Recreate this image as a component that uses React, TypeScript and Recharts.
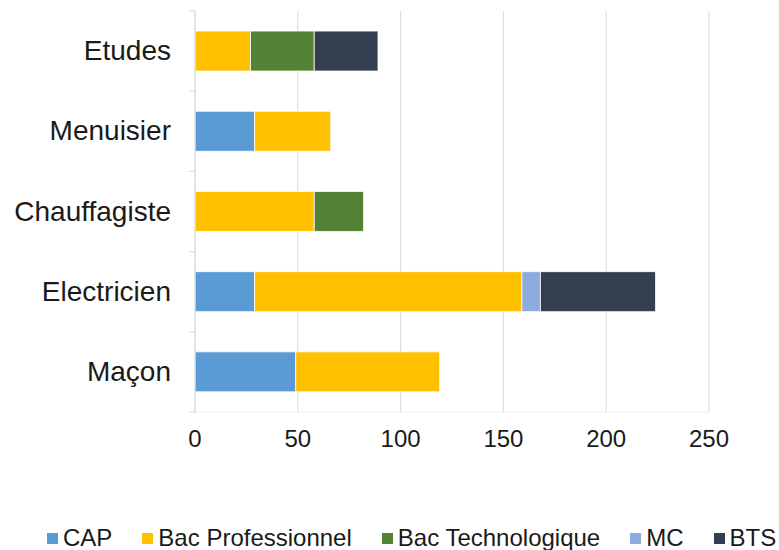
import React from 'react'
import {
  BarChart,
  Bar,
  XAxis,
  YAxis,
  CartesianGrid,
  Legend
} from 'recharts'

// categories, top to bottom
const categories = ['Etudes', 'Menuisier', 'Chauffagiste', 'Electricien', 'Maçon']

// series values (same order as categories)
const cap = [0, 29, 0, 29, 49]
const bacPro = [27, 37, 58, 130, 70]
const bacTech = [31, 0, 24, 0, 0]
const mc = [0, 0, 0, 9, 0]
const bts = [31, 0, 0, 56, 0]

const xTicks = [0, 50, 100, 150, 200, 250]

const series = [
  { key: 'cap', name: 'CAP', color: '#5b9bd5' },
  { key: 'bacPro', name: 'Bac Professionnel', color: '#ffc000' },
  { key: 'bacTech', name: 'Bac Technologique', color: '#548235' },
  { key: 'mc', name: 'MC', color: '#8faadc' },
  { key: 'bts', name: 'BTS', color: '#333f50' }
]

const data = categories.map((name, i) => ({
  name,
  cap: cap[i],
  bacPro: bacPro[i],
  bacTech: bacTech[i],
  mc: mc[i],
  bts: bts[i]
}))

const FONT = '"Liberation Sans", Arial, sans-serif'
const AXIS_GREY = '#d9d9d9'

// légende maison : carrés + texte, dans l'ordre des séries
const renderLegend = (props: any) => {
  const order = series.map(s => s.name)
  const items = [...(props.payload || [])].sort(
    (a: any, b: any) => order.indexOf(a.value) - order.indexOf(b.value)
  )
  return (
    <div style={{ display: 'flex', paddingLeft: 47, fontFamily: FONT, fontSize: 24, color: '#1a1a1a', whiteSpace: 'nowrap' }}>
      {items.map((p: any) => (
        <div key={p.value} style={{ display: 'flex', alignItems: 'center', marginRight: 30 }}>
          <span style={{ width: 11, height: 11, background: p.color, display: 'inline-block', marginRight: 5 }} />
          <span>{p.value}</span>
        </div>
      ))}
    </div>
  )
}

// libellé de catégorie + petits traits aux limites des bandes
const CategoryTick = (props: any) => {
  const { x, y, payload, index, visibleTicksCount } = props
  const half = payload.offset || 0
  const axisX = x + 24
  return (
    <g>
      <line x1={axisX - 6} x2={axisX} y1={y - half} y2={y - half} stroke={AXIS_GREY} />
      {index === visibleTicksCount - 1 && (
        <line x1={axisX - 6} x2={axisX} y1={y + half} y2={y + half} stroke={AXIS_GREY} />
      )}
      <text x={x} y={y} dy={9} textAnchor="end" fill="#1a1a1a" fontSize={28} fontFamily={FONT}>
        {payload.value}
      </text>
    </g>
  )
}

export default function App() {
  return (
    <div style={{ position: 'absolute', left: 0, top: 0, width: 779, height: 550, background: '#fff', fontFamily: FONT }}>
      <BarChart
        width={779}
        height={550}
        data={data}
        layout="vertical"
        margin={{ top: 11, right: 70, bottom: 0, left: 0 }}
        barCategoryGap="25%"
      >
        <CartesianGrid stroke={AXIS_GREY} horizontal={false} />
        <XAxis
          type="number"
          domain={[0, 250]}
          ticks={xTicks}
          height={112}
          axisLine={{ stroke: '#f0f0f0' }}
          tickLine={false}
          tickSize={6}
          tickMargin={12}
          tick={{ fill: '#1a1a1a', fontSize: 24, fontFamily: FONT }}
        />
        <YAxis
          type="category"
          dataKey="name"
          width={195}
          axisLine={{ stroke: AXIS_GREY }}
          tickLine={false}
          tickSize={6}
          tickMargin={18}
          tick={<CategoryTick />}
        />
        <Legend verticalAlign="bottom" height={26} content={renderLegend} wrapperStyle={{ left: 0, width: 779 }} />
        {series.map(s => (
          <Bar
            key={s.key}
            dataKey={s.key}
            name={s.name}
            stackId="a"
            fill={s.color}
            stroke="#ffffff"
            strokeWidth={0.8}
            isAnimationActive={false}
          />
        ))}
      </BarChart>
    </div>
  )
}
